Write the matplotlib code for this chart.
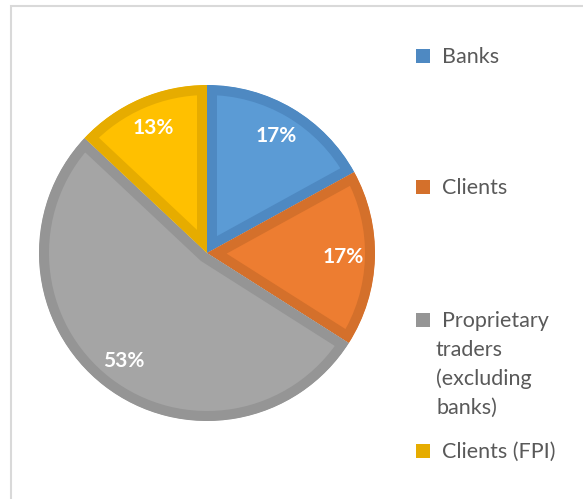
import matplotlib
matplotlib.use("Agg")
import matplotlib.pyplot as plt
from matplotlib.patches import Rectangle

categories = ["Banks", "Clients", "Proprietary\ntraders\n(excluding\nbanks)", "Clients (FPI)"]
values = [17, 17, 53, 13]
fill_colors = ["#5B9BD5", "#ED7D31", "#A5A5A5", "#FFC000"]
edge_colors = ["#4E89C2", "#D4702B", "#959595", "#E6AC00"]

W, H = 583, 499
DPI = 100
fig = plt.figure(figsize=(W / DPI, H / DPI), dpi=DPI)
fig.patch.set_facecolor("white")

# outer frame (extends past the right and bottom edges)
fig.patches.append(Rectangle((10.5 / W, -0.05), 1.2, (H - 5.5) / H + 0.05,
                             transform=fig.transFigure, fill=False,
                             edgecolor="#D9D9D9", linewidth=1.5))

cx, cy, r = 207, 253, 168
ax = fig.add_axes([(cx - r) / W, (H - cy - r) / H, 2 * r / W, 2 * r / H])
total = sum(values)
wedges, texts, autotexts = ax.pie(
    values, colors=fill_colors, startangle=90, counterclock=False,
    radius=1.0, autopct=lambda p: f"{round(p * total / 100)}%", pctdistance=0.81,
    textprops=dict(color="white", fontfamily="Lato", fontweight="bold", fontsize=15),
)
border_px = 10
for w, ec in zip(wedges, edge_colors):
    w.set_edgecolor(ec)
    w.set_linewidth(2 * border_px * 72 / DPI)
    w.set_joinstyle("miter")
    w.set_clip_path(w)
    w.set_clip_on(True)
ax.set_xlim(-1, 1)
ax.set_ylim(-1, 1)
ax.axis("off")

# legend
baselines = [63, 194, 327, 458]
sq = 14
line_gap = 29
for lab, ec, yb in zip(categories, edge_colors, baselines):
    fig.patches.append(Rectangle((416 / W, (H - yb) / H), sq / W, sq / H,
                                 transform=fig.transFigure, facecolor=ec,
                                 edgecolor="none"))
    for i, line in enumerate(lab.split("\n")):
        x = 442 if i == 0 else 436
        fig.text(x / W, (H - yb - i * line_gap) / H, line, fontfamily="Lato",
                 fontsize=15.5, color="#595959", ha="left", va="baseline")

fig.savefig("out.png", dpi=DPI)
